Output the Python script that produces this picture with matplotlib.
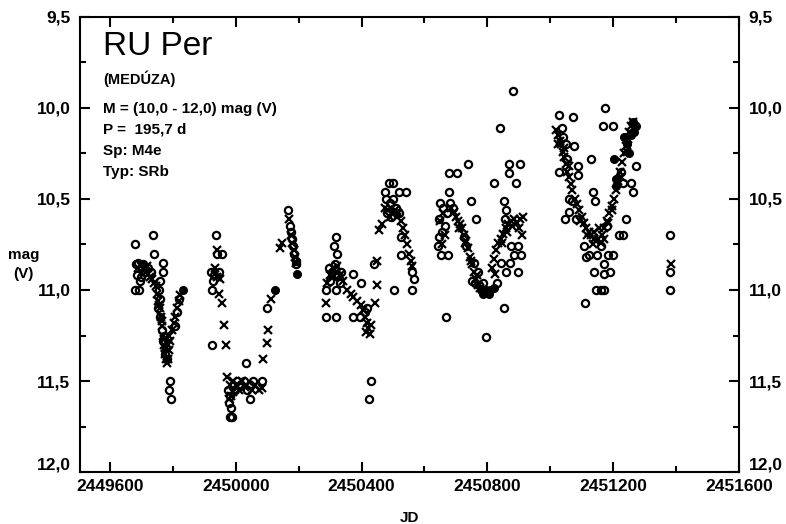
import matplotlib
matplotlib.use('Agg')
import matplotlib.pyplot as plt
import matplotlib.transforms as mtransforms
from matplotlib.ticker import MultipleLocator, FuncFormatter

plt.rcParams['font.family'] = ['Liberation Sans', 'DejaVu Sans']

# open circles (visual estimates)
jd_o = [2449680, 2449738, 2449740, 2449769, 2449768, 2449682, 2449690, 2449698, 2449686, 2449700,
        2449712, 2449706, 2449694, 2449720, 2449730, 2449680, 2449692, 2449760, 2449755, 2449760,
        2449752, 2449758, 2449765, 2449770, 2449775, 2449780, 2449778, 2449772, 2449790, 2449787,
        2449795, 2449807, 2449812, 2449818,
        2449938, 2449941, 2449957, 2449922, 2449930, 2449945, 2449925, 2449928, 2449925, 2449975,
        2449982, 2449990, 2449998, 2450005, 2450015, 2450025, 2450035, 2450045, 2450055, 2449978,
        2449986, 2449988, 2449982, 2450033, 2450084, 2450046, 2450100,
        2450167, 2450172, 2450175, 2450178, 2450183, 2450186, 2450190, 2450193,
        2450320, 2450311, 2450323, 2450295, 2450305, 2450315, 2450325, 2450335, 2450300, 2450330,
        2450288, 2450320, 2450288, 2450320, 2450374, 2450397, 2450416, 2450374, 2450394, 2450410,
        2450429, 2450425, 2450438,
        2450486, 2450499, 2450473, 2450518, 2450540, 2450478, 2450490, 2450500, 2450510, 2450480,
        2450495, 2450520, 2450524, 2450527, 2450562, 2450566, 2450502, 2450559,
        2450668, 2450677, 2450703, 2450738, 2450677, 2450645, 2450645, 2450652, 2450674, 2450650,
        2450660, 2450665, 2450672, 2450680, 2450690, 2450642, 2450655, 2450747, 2450763, 2450725,
        2450731, 2450757, 2450770, 2450750, 2450760, 2450775, 2450785, 2450795, 2450821, 2450840,
        2450868, 2450903, 2450868, 2450891, 2450852, 2450859, 2450856, 2450875, 2450897, 2450884,
        2450907, 2450843, 2450872, 2450897, 2450852, 2450881, 2450860, 2450830,
        2451028, 2451072, 2451037, 2451041, 2451076, 2451028, 2451088, 2451088, 2451060, 2451069,
        2451060, 2451047, 2451082, 2451136, 2451142, 2451130, 2451174, 2451168, 2451200, 2451107,
        2451114, 2451123, 2451139, 2451171, 2451190, 2451146, 2451162, 2451171, 2451111, 2451171,
        2451184, 2451200, 2451150, 2451162, 2451225, 2451232, 2451257, 2451264, 2451273, 2451241,
        2451219, 2451232, 2451180, 2451050, 2451055,
        2451382, 2451382, 2451382]
mag_o = [10.75, 10.70, 10.80, 10.85, 10.90, 10.86, 10.85, 10.88, 10.92, 10.93,
         10.90, 10.86, 10.95, 10.88, 10.90, 11.00, 11.00, 10.95, 11.00, 11.05,
         11.10, 11.15, 11.22, 11.28, 11.35, 11.38, 11.32, 11.25, 11.50, 11.55,
         11.60, 11.20, 11.12, 11.05,
         10.70, 10.80, 10.80, 10.90, 10.92, 10.90, 11.00, 10.95, 11.30, 11.55,
         11.58, 11.52, 11.55, 11.50, 11.52, 11.50, 11.55, 11.52, 11.50, 11.62,
         11.65, 11.70, 11.70, 11.40, 11.50, 11.60, 11.10,
         10.56, 10.65, 10.68, 10.72, 10.76, 10.80, 10.84, 10.86,
         10.71, 10.76, 10.80, 10.88, 10.90, 10.86, 10.92, 10.90, 10.95, 10.96,
         11.00, 11.00, 11.15, 11.15, 10.91, 10.96, 11.10, 11.15, 11.15, 11.12,
         11.50, 11.60, 10.86,
         10.41, 10.41, 10.46, 10.46, 10.46, 10.50, 10.52, 10.50, 10.55, 10.58,
         10.60, 10.58, 10.71, 10.81, 10.90, 10.94, 11.00, 11.00,
         11.15, 10.36, 10.36, 10.31, 10.46, 10.61, 10.71, 10.81, 10.81, 10.52,
         10.55, 10.65, 10.58, 10.52, 10.55, 10.76, 10.68, 10.51, 10.61, 10.71,
         10.76, 10.85, 10.90, 10.95, 10.96, 10.97, 10.96, 11.26, 10.41, 10.11,
         10.31, 10.31, 10.36, 10.41, 10.51, 10.56, 10.61, 10.76, 10.76, 10.81,
         10.81, 10.85, 10.85, 10.90, 11.10, 9.91, 10.90, 10.96,
         10.04, 10.05, 10.11, 10.16, 10.21, 10.35, 10.32, 10.37, 10.50, 10.51,
         10.57, 10.61, 10.61, 10.46, 10.51, 10.28, 10.00, 10.10, 10.10, 10.76,
         10.82, 10.81, 10.90, 10.91, 10.90, 11.00, 11.00, 11.00, 11.07, 10.86,
         10.81, 10.81, 10.81, 10.76, 10.35, 10.41, 10.41, 10.46, 10.32, 10.61,
         10.70, 10.70, 10.65, 10.20, 10.28,
         10.70, 10.90, 11.00]

# crosses
jd_x = [2449690, 2449700, 2449708, 2449715, 2449718, 2449722, 2449728, 2449735, 2449740, 2449745,
        2449750, 2449754, 2449758, 2449762, 2449765, 2449768, 2449771, 2449774, 2449777, 2449780,
        2449783, 2449784, 2449786, 2449788, 2449792, 2449797, 2449802, 2449808, 2449812, 2449818,
        2449822, 2449776, 2449772, 2449764, 2449756,
        2449941, 2449935, 2449940, 2449951, 2449946, 2449957, 2449963, 2449970, 2449972, 2449980,
        2449985, 2449992, 2450000, 2450010, 2450020, 2450030, 2450050, 2450062, 2450075, 2450084,
        2450088, 2450100, 2450104, 2450113, 2449978, 2449990,
        2450170, 2450148, 2450142, 2450176, 2450180, 2450184, 2450188, 2450192,
        2450288, 2450290, 2450300, 2450310, 2450318, 2450330, 2450340, 2450355, 2450365, 2450374,
        2450385, 2450397, 2450406, 2450412, 2450418, 2450422, 2450426, 2450414, 2450430, 2450448,
        2450448, 2450442, 2450308, 2450322,
        2450457, 2450464, 2450475, 2450485, 2450495, 2450505, 2450512, 2450525, 2450532, 2450538,
        2450545, 2450550, 2450556, 2450562, 2450490, 2450500, 2450515,
        2450693, 2450700, 2450706, 2450712, 2450718, 2450725, 2450731, 2450738, 2450744, 2450750,
        2450757, 2450763, 2450770, 2450778, 2450685, 2450660, 2450650, 2450665, 2450655, 2450709,
        2450728, 2450747, 2450766,
        2450821, 2450828, 2450835, 2450842, 2450850, 2450858, 2450865, 2450875, 2450885, 2450895,
        2450905, 2450912, 2450900, 2450910, 2450815, 2450825, 2450846, 2450862, 2450880,
        2451020, 2451025, 2451030, 2451035, 2451040, 2451045, 2451050, 2451055, 2451060, 2451065,
        2451070, 2451078, 2451085, 2451092, 2451100, 2451108, 2451115, 2451122, 2451130, 2451138,
        2451145, 2451152, 2451160, 2451025, 2451045, 2451060, 2451095, 2451118, 2451135,
        2451165, 2451172, 2451180, 2451188, 2451195, 2451202, 2451210, 2451216, 2451222, 2451228,
        2451234, 2451240, 2451246, 2451252, 2451258, 2451264, 2451140, 2451155, 2451170, 2451185,
        2451198, 2451225, 2451243,
        2451383]
mag_x = [10.88, 10.87, 10.88, 10.90, 10.87, 10.91, 10.93, 10.94, 10.96, 10.98,
         11.02, 11.06, 11.10, 11.15, 11.20, 11.25, 11.30, 11.35, 11.38, 11.40,
         11.30, 11.38, 11.25, 11.33, 11.28, 11.22, 11.18, 11.15, 11.10, 11.06,
         11.03, 11.32, 11.27, 11.17, 11.08,
         10.78, 10.88, 10.93, 10.94, 11.02, 11.07, 11.19, 11.30, 11.48, 11.52,
         11.58, 11.56, 11.52, 11.55, 11.50, 11.53, 11.55, 11.52, 11.55, 11.54,
         11.38, 11.29, 11.22, 11.05, 11.60, 11.50,
         10.61, 10.74, 10.77, 10.70, 10.74, 10.78, 10.82, 10.85,
         11.07, 10.96, 10.92, 10.88, 10.90, 10.92, 10.95, 11.00, 11.02, 11.04,
         11.06, 11.08, 11.11, 11.15, 11.18, 11.21, 11.24, 11.23, 11.19, 10.84,
         10.97, 11.07, 10.93, 10.87,
         10.67, 10.64, 10.55, 10.56, 10.55, 10.56, 10.60, 10.62, 10.66, 10.70,
         10.75, 10.80, 10.84, 10.87, 10.60, 10.58, 10.58,
         10.57, 10.60, 10.62, 10.64, 10.66, 10.70, 10.73, 10.77, 10.82, 10.86,
         10.90, 10.94, 10.97, 10.99, 10.55, 10.58, 10.62, 10.70, 10.75, 10.66,
         10.74, 10.84, 10.92,
         10.83, 10.78, 10.74, 10.72, 10.69, 10.66, 10.64, 10.62, 10.61, 10.63,
         10.61, 10.60, 10.66, 10.70, 10.88, 10.91, 10.74, 10.68, 10.65,
         10.12, 10.15, 10.18, 10.20, 10.24, 10.27, 10.31, 10.35, 10.38, 10.42,
         10.45, 10.50, 10.53, 10.56, 10.60, 10.63, 10.66, 10.68, 10.70, 10.72,
         10.73, 10.72, 10.74, 10.20, 10.22, 10.32, 10.62, 10.70, 10.75,
         10.70, 10.66, 10.62, 10.58, 10.54, 10.50, 10.45, 10.40, 10.35, 10.30,
         10.25, 10.21, 10.17, 10.13, 10.10, 10.08, 10.68, 10.66, 10.72, 10.63,
         10.56, 10.38, 10.24,
         10.86]

# filled circles
jd_f = [2449833, 2450126, 2450196,
        2450780, 2450790, 2450800, 2450810, 2450820, 2450785, 2450805, 2450795,
        2451203, 2451209, 2451209, 2451235, 2451245, 2451262, 2451268, 2451272, 2451266, 2451258,
        2451250]
mag_f = [11.00, 11.00, 10.91,
         11.00, 11.01, 11.01, 11.00, 10.99, 11.02, 11.02, 11.00,
         10.28, 10.39, 10.43, 10.16, 10.20, 10.08, 10.09, 10.10, 10.13, 10.15,
         10.25]

fig = plt.figure(figsize=(7.86, 5.24), dpi=100)
ax = fig.add_axes([0.102, 0.099, 0.838, 0.869])

ax.plot(jd_o, mag_o, 'o', mfc='none', mec='black', ms=5.2, mew=1.6, ls='none')
ax.plot(jd_x, mag_x, 'x', color='black', ms=5.5, mew=1.6, ls='none')
ax.plot(jd_f, mag_f, 'o', color='black', ms=5.5, ls='none')

ax.set_xlim(2449505, 2451600)
ax.set_ylim(12.0, 9.5)
ax.xaxis.set_major_locator(MultipleLocator(400))
ax.xaxis.set_minor_locator(MultipleLocator(200))
ax.yaxis.set_major_locator(MultipleLocator(0.5))
ax.yaxis.set_minor_locator(MultipleLocator(0.25))
ax.xaxis.set_major_formatter(FuncFormatter(lambda v, p: '%d' % v))
ax.yaxis.set_major_formatter(FuncFormatter(lambda v, p: ('%.1f' % v).replace('.', ',')))
ax.tick_params(which='both', direction='in', top=True, right=True, labelright=True,
               width=1.5, labelsize=12.5)
ax.tick_params(which='major', length=7)
ax.tick_params(which='minor', length=4)
ax.tick_params(axis='y', pad=7)
ax.tick_params(axis='x', pad=5)
fig.canvas.draw()
for lab in ax.get_xticklabels() + ax.get_yticklabels() + ax.yaxis.get_ticklabels(which='major'):
    lab.set_fontweight('bold')
# lift the 12,0 labels a little, as in the scan
for t in ax.yaxis.get_major_ticks():
    if abs(t.get_loc() - 12.0) < 1e-6:
        off = mtransforms.ScaledTranslation(0, 6 / 72, fig.dpi_scale_trans)
        t.label1.set_transform(t.label1.get_transform() + off)
        t.label2.set_transform(t.label2.get_transform() + off)
for s in ax.spines.values():
    s.set_linewidth(1.5)

ax.set_xlabel('JD', fontsize=11, fontweight='bold', labelpad=12)
fig.text(0.03, 0.495, 'mag\n(V)', fontsize=11, fontweight='bold', ha='center', va='center',
         linespacing=1.5)

ax.text(0.035, 0.934, 'RU Per', transform=ax.transAxes, fontsize=24, va='center')
ax.text(0.035, 0.864, '(MEDÚZA)', transform=ax.transAxes, fontsize=10.5, fontweight='bold', va='center')
info = ['M = (10,0 - 12,0) mag (V)', 'P =  195,7 d', 'Sp: M4e', 'Typ: SRb']
for i, t in enumerate(info):
    ax.text(0.035, 0.798 - i * 0.046, t, transform=ax.transAxes, fontsize=11,
            fontweight='bold', va='center')

fig.savefig('out.png', dpi=100)
